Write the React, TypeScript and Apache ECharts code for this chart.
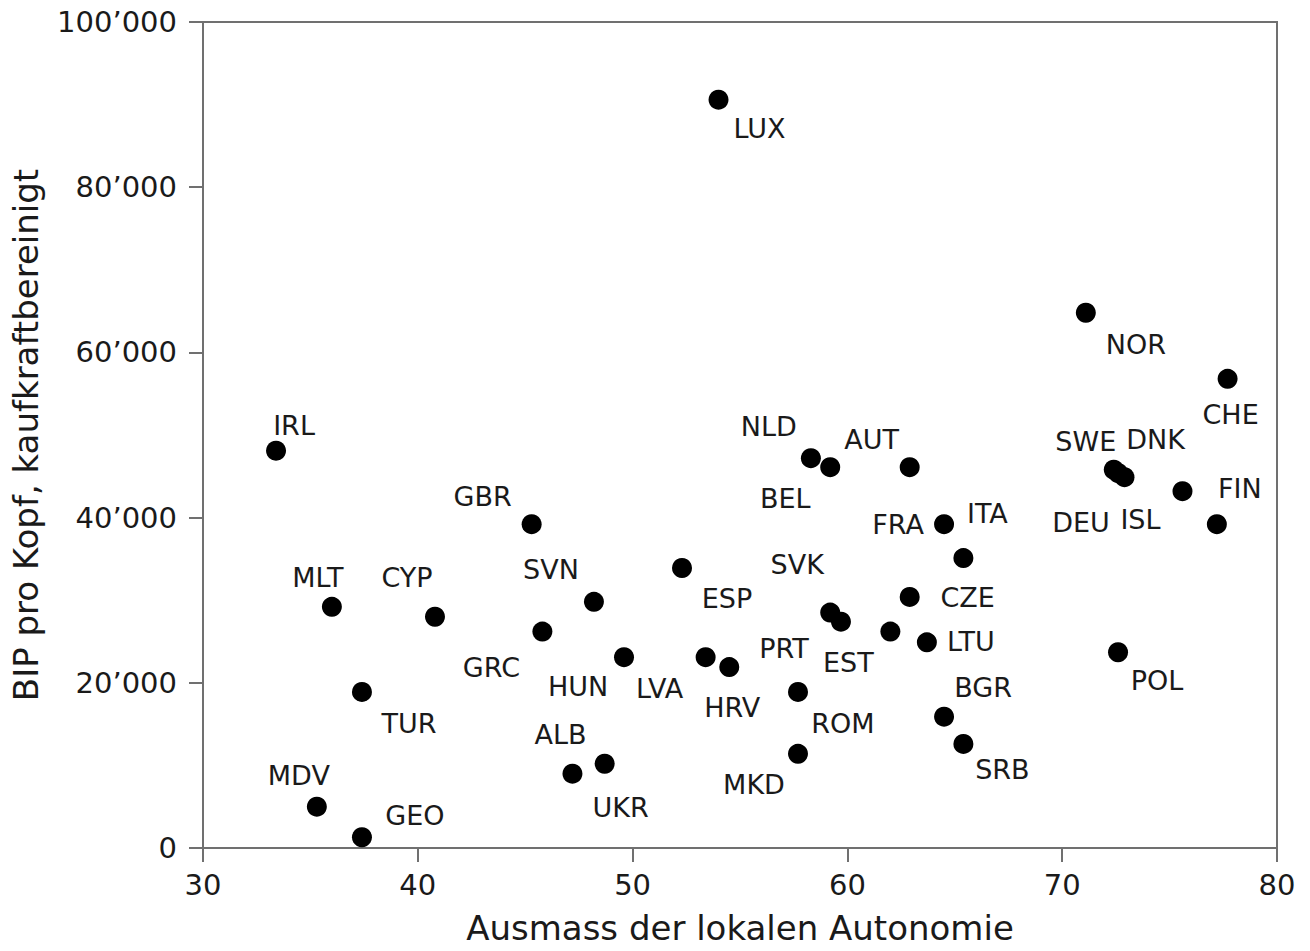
import React, { useEffect, useRef } from "react";
import * as echarts from "echarts";

const countries = [
  "LUX", "NOR", "CHE", "IRL", "NLD", "BEL", "AUT", "SWE", "DNK", "DEU",
  "ISL", "FIN", "GBR", "FRA", "ITA", "ESP", "SVN", "MLT", "CYP", "CZE",
  "SVK", "PRT", "EST", "LTU", "GRC", "HUN", "LVA", "HRV", "POL", "TUR",
  "ROM", "BGR", "SRB", "MKD", "ALB", "UKR", "MDV", "GEO",
];
const autonomy = [
  54.0, 71.1, 77.7, 33.4, 58.3, 59.2, 62.9, 72.4, 72.9, 72.6,
  75.6, 77.2, 45.3, 64.5, 65.4, 52.3, 48.2, 36.0, 40.8, 62.9,
  59.2, 59.7, 62.0, 63.7, 45.8, 49.6, 53.4, 54.5, 72.6, 37.4,
  57.7, 64.5, 65.4, 57.7, 47.2, 48.7, 35.3, 37.4,
];
const gdpPerCapita = [
  90600, 64800, 56800, 48100, 47200, 46100, 46100, 45800, 44900, 45400,
  43200, 39200, 39200, 39200, 35100, 33900, 29800, 29200, 28000, 30400,
  28500, 27400, 26200, 24900, 26200, 23100, 23100, 21900, 23700, 18900,
  18900, 15900, 12600, 11400, 9000, 10200, 5000, 1300,
];

const xTicks = { min: 30, max: 80, interval: 10 };
const yTicks = { min: 0, max: 100000, interval: 20000 };

// label placement (pixel offsets from point centre) – styling only
const labelOffsets: Record<string, [number, number]> = {
  LUX: [41, 29], NOR: [50, 32], CHE: [3, 36], IRL: [18, -25], NLD: [-42, -32],
  BEL: [-45, 31], AUT: [-38, -28], SWE: [-28, -28], DNK: [31, -38], DEU: [-37, 50],
  ISL: [-42, 28], FIN: [23, -36], GBR: [-49, -28], FRA: [-46, 0], ITA: [24, -45],
  ESP: [45, 31], SVN: [-43, -32], MLT: [-14, -29], CYP: [-28, -39], CZE: [58, 1],
  SVK: [-33, -48], PRT: [-57, 27], EST: [-42, 31], LTU: [44, -1], GRC: [-51, 36],
  HUN: [-46, 29], LVA: [-46, 31], HRV: [3, 40], POL: [39, 28], TUR: [47, 32],
  ROM: [45, 32], BGR: [39, -29], SRB: [39, 26], MKD: [-44, 31], ALB: [-12, -39],
  UKR: [16, 44], MDV: [-18, -31], GEO: [53, -22],
};

const FONT = "'DejaVu Sans', sans-serif";
const AXIS_GREY = "#707070";
const TEXT = "#1a1a1a";

export default function App() {
  const ref = useRef<HTMLDivElement>(null);

  useEffect(() => {
    if (!ref.current) return;
    const chart = echarts.init(ref.current, undefined, { renderer: "svg" });
    const data = countries.map((c, i) => ({
      name: c,
      value: [autonomy[i], gdpPerCapita[i]],
      label: { offset: labelOffsets[c] || [0, 0] },
    }));
    chart.setOption({
      animation: false,
      backgroundColor: "#ffffff",
      grid: {
        left: 203,
        right: 33,
        top: 22,
        bottom: 103,
        show: true,
        borderColor: AXIS_GREY,
        borderWidth: 2,
        backgroundColor: "transparent",
      },
      xAxis: {
        type: "value",
        min: xTicks.min,
        max: xTicks.max,
        interval: xTicks.interval,
        name: "Ausmass der lokalen Autonomie",
        nameLocation: "middle",
        nameGap: 63,
        nameTextStyle: { fontSize: 34, color: TEXT, fontFamily: FONT },
        axisLine: { show: true, lineStyle: { color: AXIS_GREY, width: 2 } },
        axisTick: { show: true, inside: false, length: 14, lineStyle: { color: AXIS_GREY, width: 2 } },
        axisLabel: { fontSize: 29, color: TEXT, fontFamily: FONT, margin: 22 },
        splitLine: { show: false },
      },
      yAxis: {
        type: "value",
        min: yTicks.min,
        max: yTicks.max,
        interval: yTicks.interval,
        name: "BIP pro Kopf, kaufkraftbereinigt",
        nameLocation: "middle",
        nameGap: 160,
        nameRotate: 90,
        nameTextStyle: { fontSize: 34, color: TEXT, fontFamily: FONT },
        axisLine: { show: true, lineStyle: { color: AXIS_GREY, width: 2 } },
        axisTick: { show: true, inside: false, length: 14, lineStyle: { color: AXIS_GREY, width: 2 } },
        axisLabel: {
          fontSize: 29,
          color: TEXT,
          fontFamily: FONT,
          margin: 26,
          formatter: (v: number) => (v === 0 ? "0" : `${v / 1000}\u2019000`),
        },
        splitLine: { show: false },
      },
      series: [
        {
          type: "scatter",
          symbol: "circle",
          symbolSize: 20,
          itemStyle: { color: "#000000", opacity: 1 },
          label: {
            show: true,
            position: "inside",
            formatter: "{b}",
            color: TEXT,
            fontSize: 27,
            fontFamily: FONT,
            align: "center",
            verticalAlign: "middle",
          },
          emphasis: { disabled: true },
          data,
        },
      ],
    });
    return () => chart.dispose();
  }, []);

  return (
    <div
      ref={ref}
      style={{ position: "fixed", left: 0, top: 0, width: 1310, height: 951, background: "#fff" }}
    />
  );
}
